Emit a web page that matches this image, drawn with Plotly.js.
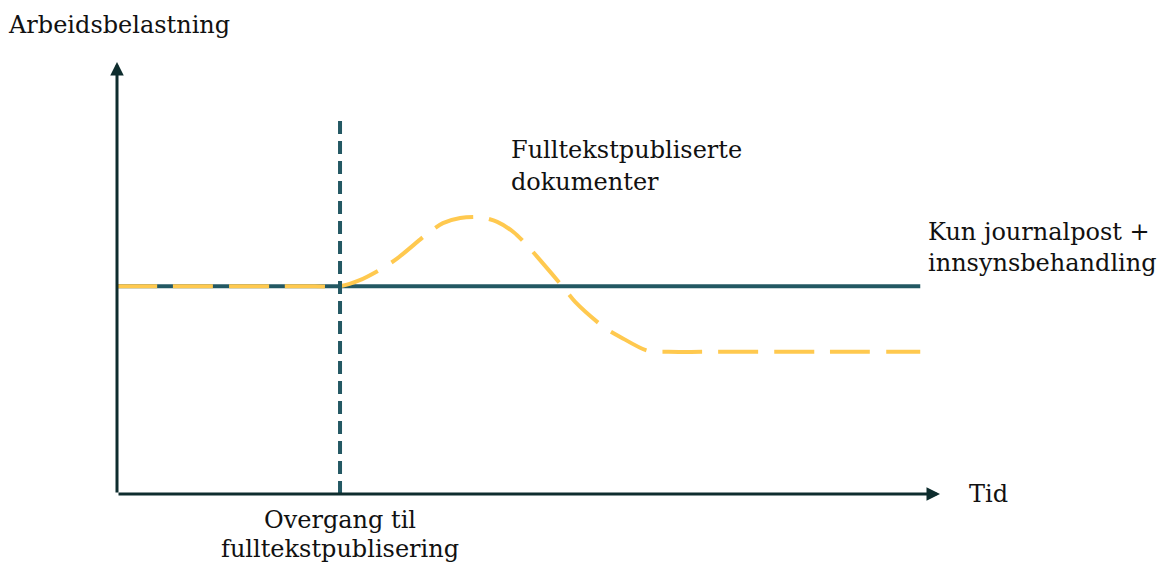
<!DOCTYPE html>
<html>
<head>
<meta charset="utf-8">
<script src="https://cdn.plot.ly/plotly-3.0.1.min.js"></script>
<style>html,body{margin:0;padding:0;background:#fff;}#chart{width:1157px;height:563px;}</style>
</head>
<body>
<div id="chart"></div>
<script>
// Data (abstract units: time 0-100, workload 0-100)
const baselineX = [0, 97.6];
const baselineY = [48.1, 48.1];

const fullTextX = [0, 5, 10, 15, 20, 24, 27.1, 29.5, 32.3, 34.1, 37.8, 39.6, 41.7, 44.1, 46.2, 48.2, 49.8, 51.2, 54.2, 55.7, 59.1, 61.2, 64.4, 67, 71, 76, 81, 86, 91, 97.6];
const fullTextY = [48.1, 48.1, 48.1, 48.1, 48.1, 48.1, 48.1, 49.5, 52.3, 54.6, 60.4, 62.7, 63.9, 64.1, 63.0, 60.6, 57.6, 54.6, 47.9, 44.4, 38.7, 36.3, 33.2, 32.9, 32.9, 32.9, 32.9, 32.9, 32.9, 32.9];

const transitionX = [27.1, 27.1];
const transitionY = [0, 87.0];

const labelYAxis = "Arbeidsbelastning";
const labelXAxis = "Tid";
const labelFullText = ["Fulltekstpubliserte", "dokumenter"];
const labelBaseline = ["Kun journalpost +", "innsynsbehandling"];
const labelTransition = ["Overgang til", "fulltekstpublisering"];

const teal = "#235863";
const axisCol = "#0e2d2e";
const yellow = "#ffc94f";
const fontFam = "DejaVu Serif, Liberation Serif, serif";

const traces = [
  {x: baselineX, y: baselineY, mode: "lines", line: {color: teal, width: 4}, hoverinfo: "skip"},
  {x: fullTextX, y: fullTextY, mode: "lines", line: {color: yellow, width: 4, shape: "spline", smoothing: 0.8, dash: "40px,16px"}, hoverinfo: "skip"},
  {x: transitionX, y: transitionY, mode: "lines", line: {color: teal, width: 4, dash: "13px,7px"}, hoverinfo: "skip"}
];

// labels placed in paper coordinates (data units / 100)
const txt = (text, x, y, xanchor) => ({
  text: text, x: x / 100, y: y / 100, xref: "paper", yref: "paper", xanchor: xanchor, yanchor: "middle",
  showarrow: false, font: {family: fontFam, size: 24, color: "#111111"}
});

const annotations = [
  // axes with arrows
  {x: 0, y: 1, ax: 0, ay: 0, xref: "paper", yref: "paper", axref: "paper", ayref: "paper", text: "", showarrow: true,
   arrowhead: 2, arrowsize: 0.9, arrowwidth: 3, arrowcolor: axisCol, standoff: 0, startstandoff: 0},
  {x: 1, y: 0, ax: 0, ay: 0, xref: "paper", yref: "paper", axref: "paper", ayref: "paper", text: "", showarrow: true,
   arrowhead: 2, arrowsize: 0.9, arrowwidth: 3, arrowcolor: axisCol, standoff: 0, startstandoff: 0},
  txt(labelYAxis, -13.5, 108.6, "left"),
  txt(labelXAxis, 103.3, 0, "left"),
  txt(labelFullText[0], 47.6, 79.6, "left"),
  txt(labelFullText[1], 47.6, 72.2, "left"),
  txt(labelBaseline[0], 98.3, 60.6, "left"),
  txt(labelBaseline[1], 98.3, 53.5, "left"),
  txt(labelTransition[0], 27.1, -6.0, "center"),
  txt(labelTransition[1], 27.1, -12.7, "center")
];

const layout = {
  width: 1157, height: 563,
  margin: {l: 117, r: 217, t: 62, b: 69, pad: 0},
  paper_bgcolor: "#ffffff", plot_bgcolor: "#ffffff",
  showlegend: false,
  xaxis: {range: [0, 100], visible: false, fixedrange: true},
  yaxis: {range: [0, 100], visible: false, fixedrange: true},
  annotations: annotations
};

Plotly.newPlot("chart", traces, layout, {staticPlot: true, displayModeBar: false});
</script>
</body>
</html>
